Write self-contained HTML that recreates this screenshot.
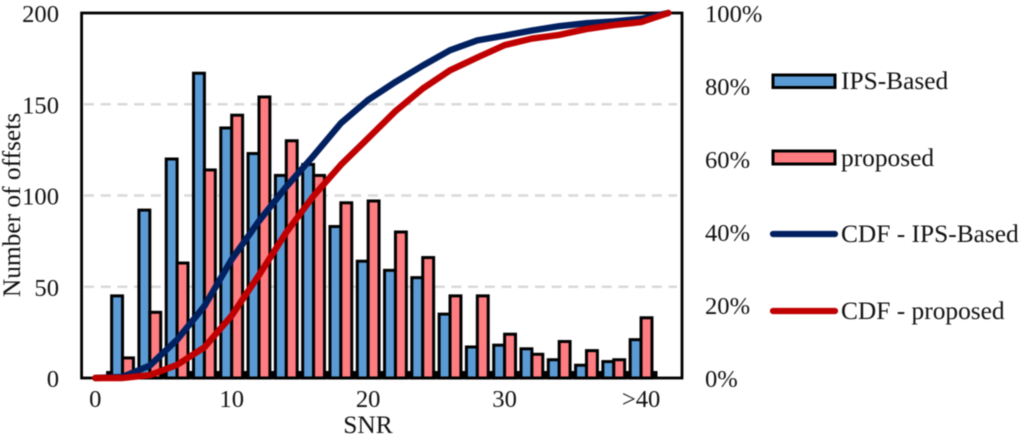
<!DOCTYPE html>
<html>
<head>
<meta charset="utf-8">
<title>SNR histogram and CDF</title>
<style>
html,body{margin:0;padding:0;background:#fff;width:1024px;height:438px;overflow:hidden}
svg{display:block;filter:blur(0.4px)}
text{font-family:"Liberation Serif",serif;font-size:25.4px;fill:#111}
text.tick{font-size:24.6px}
</style>
</head>
<body>
<svg id="chart" width="1024" height="438" viewBox="0 0 1024 438" xmlns="http://www.w3.org/2000/svg">
  <text transform="translate(20,205) rotate(-90)" text-anchor="middle">Number of offsets</text>
  <text x="368" y="433" text-anchor="middle">SNR</text>
  <g>
    <rect x="773" y="75" width="62" height="12.5" fill="#5B9BD5" stroke="#000" stroke-width="3"/>
    <text x="841" y="89">IPS-Based</text>
    <rect x="773" y="151" width="62" height="13" fill="#FF7C80" stroke="#000" stroke-width="3"/>
    <text x="841" y="166">proposed</text>
    <line x1="773" x2="835" y1="234" y2="234" stroke="#002060" stroke-width="6.2" stroke-linecap="round"/>
    <text x="841" y="242">CDF - IPS-Based</text>
    <line x1="773" x2="835" y1="311" y2="311" stroke="#C00000" stroke-width="6.2" stroke-linecap="round"/>
    <text x="841" y="319">CDF - proposed</text>
  </g>
</svg>
<script>
var categoryCount = 22;
var leftTicks = [0, 50, 100, 150, 200];
var rightTicks = [0, 20, 40, 60, 80, 100];
var xLabels = ['0', '10', '20', '30', '>40'];
var xLabelIndex = [0, 5, 10, 15, 20];
var ipsBased = [0, 45, 92, 120, 167, 137, 123, 111, 117, 83, 64, 59, 55, 35, 17, 18, 16, 10, 7, 9, 21];
var proposed = [0, 11, 36, 63, 114, 144, 154, 130, 111, 96, 97, 80, 66, 45, 45, 24, 13, 20, 15, 10, 33];
var cdfIpsBased = [0, 0.3, 3.4, 10.5, 19.7, 32.5, 43, 52.4, 60.9, 69.8, 76.2, 81.1, 85.6, 89.8, 92.5, 93.8, 95.2, 96.4, 97.2, 97.7, 98.4, 100];
var cdfProposed = [0, 0, 0.8, 3.6, 8.4, 17.1, 28.2, 39.9, 49.9, 58.4, 65.7, 73.1, 79.3, 84.3, 87.8, 91.2, 93, 94, 95.6, 96.7, 97.5, 100];

var NS = 'http://www.w3.org/2000/svg';
var svg = document.getElementById('chart');
var plot = { left: 81.6, right: 682, top: 13, bottom: 378 };
var band = (plot.right - plot.left) / categoryCount;
function xCenter(i) { return plot.left + band * (i + 0.5); }
function yLeft(v) { return plot.bottom - (plot.bottom - plot.top) * v / 200; }
function yRight(p) { return plot.bottom - (plot.bottom - plot.top) * p / 100; }
function make(tag, attrs, parent) {
  var el = document.createElementNS(NS, tag);
  for (var k in attrs) { el.setAttribute(k, attrs[k]); }
  parent.appendChild(el);
  return el;
}

var gridGroup = make('g', {}, svg);


leftTicks.forEach(function (v) {
  if (v === 0 || v === 200) { return; }
  var g = make('line', { x1: 84, x2: 677, y1: yLeft(v), y2: yLeft(v), stroke: '#D9D9D9', 'stroke-width': 2.4, 'stroke-dasharray': '10 6.7' }, gridGroup);
  
  
});

var tickGroup = make('g', {}, svg);


for (var t = 0; t <= 20; t++) {
  var tick = make('rect', { x: xCenter(t) + band / 2 - 2.8, y: plot.bottom - 7, width: 5.6, height: 7, fill: '#000' }, tickGroup);
  
  
}

var barGroup = make('g', {}, svg);


var barW = 10.9;
function drawBars(values, offset, fill, label) {
  values.forEach(function (v, i) {
    if (v === 0) { return; }
    var y = yLeft(v);
    var bar = make('rect', { x: xCenter(i) + offset, y: y, width: barW, height: plot.bottom - y, fill: fill, stroke: '#000', 'stroke-width': 3 }, barGroup);
    
    
  });
}
drawBars(ipsBased, -barW, '#5B9BD5', 'ips-based');
drawBars(proposed, 0, '#FF7C80', 'proposed');

var frame = make('rect', { x: plot.left, y: plot.top, width: plot.right - plot.left, height: plot.bottom - plot.top, fill: 'none', stroke: '#000', 'stroke-width': 2.8 }, svg);



function drawLine(values, color, label) {
  var pts = values.map(function (p, i) { return xCenter(i) + ',' + yRight(p); }).join(' ');
  var line = make('polyline', { points: pts, fill: 'none', stroke: color, 'stroke-width': 6.4, 'stroke-linejoin': 'round', 'stroke-linecap': 'round' }, svg);
  
  
}
drawLine(cdfIpsBased, '#002060', 'cdf-ips-based');
drawLine(cdfProposed, '#C00000', 'cdf-proposed');

leftTicks.forEach(function (v) {
  var t = make('text', { x: 59, y: yLeft(v) + 9, 'text-anchor': 'end', 'class': 'tick' }, svg);
  t.textContent = String(v);
  
  
});
rightTicks.forEach(function (p) {
  var t = make('text', { x: 705, y: yRight(p) + 9, 'text-anchor': 'start', 'class': 'tick' }, svg);
  t.textContent = p + '%';
  
  
});
xLabels.forEach(function (s, i) {
  var t = make('text', { x: xCenter(xLabelIndex[i]), y: 407, 'text-anchor': 'middle', 'class': 'tick' }, svg);
  t.textContent = s;
  
  
});
</script>
</body>
</html>
